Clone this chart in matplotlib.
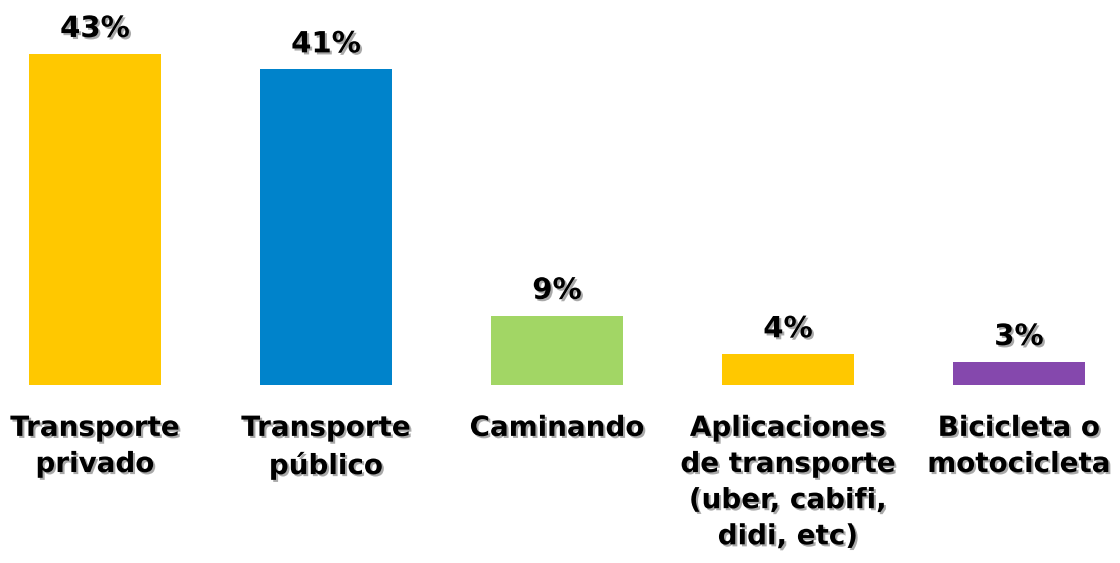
import matplotlib.pyplot as plt
import matplotlib.patheffects as pe

# Datos
categorias = ["Transporte\nprivado", "Transporte\npúblico", "Caminando",
              "Aplicaciones\nde transporte\n(uber, cabifi,\ndidi, etc)",
              "Bicicleta o\nmotocicleta"]
valores = [43, 41, 9, 4, 3]
colores = ["#FFC800", "#0083CB", "#A2D665", "#FFC800", "#8548AD"]

fig = plt.figure(figsize=(11.2, 5.63), dpi=100)
ax = fig.add_axes([0, 178 / 563, 1, 385 / 563])

x = range(len(valores))
ax.bar(x, valores, width=0.571, color=colores)

ax.set_xlim(-95 / 231, (1120 - 95) / 231)
ax.set_ylim(0, 50)
ax.axis('off')

sombra = [pe.SimplePatchShadow(offset=(1.5, -1.5), shadow_rgbFace='#555555', alpha=0.5), pe.Normal()]

# Etiquetas de porcentaje
for i, v in enumerate(valores):
    ax.text(i, v + 2.2, f"{v}%", ha='center', va='baseline', fontsize=21,
            fontweight='bold', family='DejaVu Sans', path_effects=sombra)

# Etiquetas de categoria
for i, c in enumerate(categorias):
    ax.text(i, -0.075, c, transform=ax.get_xaxis_transform(), ha='center', va='top',
            fontsize=20, fontweight='bold', family='DejaVu Sans', linespacing=1.37,
            path_effects=sombra)

fig.savefig('out.png', dpi=100)
